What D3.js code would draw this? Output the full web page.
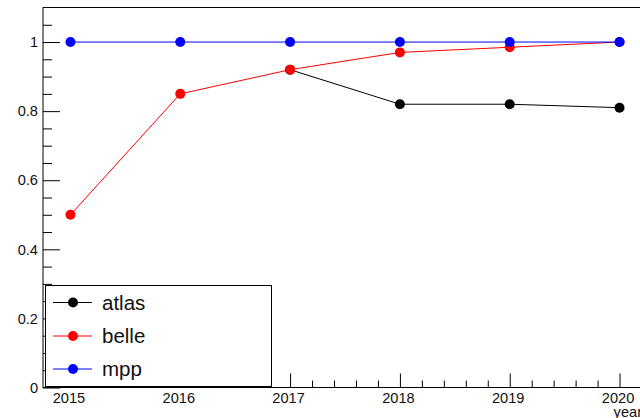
<!DOCTYPE html>
<html>
<head>
<meta charset="utf-8">
<script src="https://cdn.jsdelivr.net/npm/d3@7"></script>
<style>
  html, body { margin: 0; padding: 0; background: #fff; }
  svg { display: block; font-family: "Liberation Sans", Arial, Helvetica, sans-serif; }
</style>
</head>
<body>
<svg id="chart" width="640" height="418"></svg>
<script>
// Data per year
const years = [2015, 2016, 2017, 2018, 2019, 2020];
const atlas = [null, null, 0.92, 0.82, 0.82, 0.81];
const belle = [0.5, 0.85, 0.92, 0.97, 0.985, 1.0];
const mpp   = [1, 1, 1, 1, 1, 1];
const seriesNames  = ["atlas", "belle", "mpp"];
const seriesColors = ["#000000", "#ff0000", "#0000ff"];
const yTickLabels = ["0", "0.2", "0.4", "0.6", "0.8", "1"];
const xAxisTitle = "year";

const svg = d3.select("#chart");
const frame = { left: 43, right: 647, top: 7.5, bottom: 387.5 };

const x = d3.scaleLinear().domain([2014.75, 2020.25]).range([frame.left, frame.right]);
const y = d3.scaleLinear().domain([0, 1.1]).range([frame.bottom, frame.top]);

const ink = "#000";

// Frame
svg.append("rect")
  .attr("x", frame.left).attr("y", frame.top)
  .attr("width", frame.right - frame.left).attr("height", frame.bottom - frame.top)
  .attr("fill", "none").attr("stroke", ink).attr("stroke-width", 1);

// Y axis: major ticks every 0.2, minor every 0.05
const yMajor = yTickLabels.map(Number);
const yMinor = d3.range(0, 22).map(i => +(i * 0.05).toFixed(2)).filter(v => !yMajor.includes(v));
const yAxisMajor = d3.axisRight(y).tickValues(yMajor).tickSize(17).tickFormat("");
const yAxisMinor = d3.axisRight(y).tickValues(yMinor).tickSize(9).tickFormat("");
[yAxisMajor, yAxisMinor].forEach(ax => {
  const g = svg.append("g").attr("transform", `translate(${frame.left},0)`).call(ax);
  g.select(".domain").remove();
  g.selectAll("line").attr("stroke", ink);
});
svg.append("g").selectAll("text").data(yMajor).join("text")
  .attr("x", 38).attr("y", d => y(d)).attr("dy", "0.36em")
  .attr("text-anchor", "end").attr("font-size", 14.6).attr("fill", "#111")
  .text((d, i) => yTickLabels[i]);

// X axis: major ticks each year, minor every 0.2 year
const xMinor = d3.range(0, 28).map(i => +(2014.8 + i * 0.2).toFixed(1)).filter(v => !years.includes(v) && v < 2020.25);
const xAxisMajor = d3.axisTop(x).tickValues(years).tickSize(14).tickFormat("");
const xAxisMinor = d3.axisTop(x).tickValues(xMinor).tickSize(7).tickFormat("");
[xAxisMajor, xAxisMinor].forEach(ax => {
  const g = svg.append("g").attr("transform", `translate(0,${frame.bottom})`).call(ax);
  g.select(".domain").remove();
  g.selectAll("line").attr("stroke", ink);
});
svg.append("g").selectAll("text").data(years).join("text")
  .attr("x", d => x(d) - 1.5).attr("y", 403)
  .attr("text-anchor", "middle").attr("font-size", 14.6).attr("fill", "#111")
  .text(d => d);
svg.append("text")
  .attr("x", 642).attr("y", 417)
  .attr("text-anchor", "end").attr("font-size", 14.6).attr("fill", "#111")
  .text(xAxisTitle);

// Series lines and markers
const allSeries = [atlas, belle, mpp];
const line = d3.line()
  .defined(d => d.v !== null)
  .x(d => x(d.year)).y(d => y(d.v));

allSeries.forEach((vals, si) => {
  const pts = years.map((yr, i) => ({ year: yr, v: vals[i] }));
  const g = svg.append("g");
  g.append("path").datum(pts)
    .attr("d", line).attr("fill", "none")
    .attr("stroke", seriesColors[si]).attr("stroke-width", 1);
  g.selectAll("circle").data(pts.filter(d => d.v !== null)).join("circle")
    .attr("cx", d => x(d.year)).attr("cy", d => y(d.v)).attr("r", 5)
    .attr("fill", seriesColors[si]);
});

// Legend
const legend = svg.append("g");
legend.append("rect")
  .attr("x", 45.5).attr("y", 285.5).attr("width", 226).attr("height", 101)
  .attr("fill", "#fff").attr("stroke", ink).attr("stroke-width", 1);
const rowY = [302.5, 336, 369];
seriesNames.forEach((name, i) => {
  const ry = rowY[i];
  legend.append("line")
    .attr("x1", 53).attr("x2", 92).attr("y1", ry).attr("y2", ry)
    .attr("stroke", seriesColors[i]).attr("stroke-width", 1);
  legend.append("circle")
    .attr("cx", 73).attr("cy", ry).attr("r", 5).attr("fill", seriesColors[i]);
  legend.append("text")
    .attr("x", 102).attr("y", ry).attr("dy", "0.35em")
    .attr("font-size", 20.5).attr("fill", "#111")
    .text(name);
});
</script>
</body>
</html>
